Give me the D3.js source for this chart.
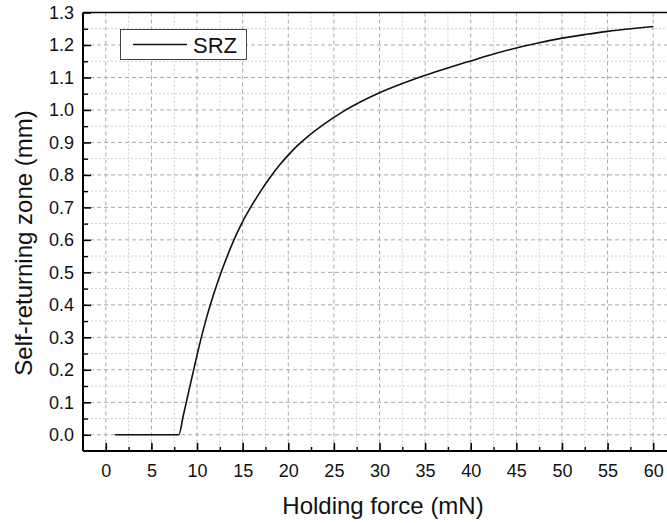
<!DOCTYPE html>
<html><head><meta charset="utf-8">
<script src="https://cdn.jsdelivr.net/npm/d3@7"></script>
<style>body{margin:0;background:#fff}svg{display:block}text{font-family:"Liberation Sans",Arial,sans-serif}</style>
</head><body>
<script>
const seriesName = "SRZ";
const xLabel = "Holding force (mN)";
const yLabel = "Self-returning zone (mm)";
const force = [1, 8, 8.5, 9, 9.5, 10, 10.5, 11, 11.5, 12, 12.5, 13, 14, 15, 16, 17, 18, 19, 20, 21, 22, 24, 26, 28, 30, 32, 34, 36, 38, 40, 42.5, 45, 47.5, 50, 52.5, 55, 57.5, 60];
const srz   = [0, 0, 0.06, 0.122, 0.184, 0.245, 0.303, 0.356, 0.404, 0.448, 0.489, 0.527, 0.597, 0.656, 0.706, 0.751, 0.792, 0.829, 0.861, 0.89, 0.915, 0.958, 0.995, 1.026, 1.053, 1.076, 1.097, 1.116, 1.134, 1.151, 1.172, 1.191, 1.207, 1.221, 1.232, 1.242, 1.25, 1.257];
const xTicks = [0, 5, 10, 15, 20, 25, 30, 35, 40, 45, 50, 55, 60];
const xMinor = [2.5, 7.5, 12.5, 17.5, 22.5, 27.5, 32.5, 37.5, 42.5, 47.5, 52.5, 57.5, 62.5];
const yTicks = [0, 0.1, 0.2, 0.3, 0.4, 0.5, 0.6, 0.7, 0.8, 0.9, 1.0, 1.1, 1.2, 1.3];
const yMinor = [0.05, 0.15, 0.25, 0.35, 0.45, 0.55, 0.65, 0.75, 0.85, 0.95, 1.05, 1.15, 1.25];

const W = 667, H = 523;
const L = 83, R = 676, T = 12.5, B = 451;
const svg = d3.select("body").append("svg").attr("width", W).attr("height", H);
const x = d3.scaleLinear().domain([-2.5, 62.5]).range([L, R]);
const y = d3.scaleLinear().domain([-0.05, 1.3]).range([B, T]);

// grid
const g = svg.append("g");
g.selectAll(".vminor").data(xMinor).join("line")
  .attr("x1", d => x(d)).attr("x2", d => x(d)).attr("y1", T).attr("y2", B)
  .attr("stroke", "#cfcfcf").attr("stroke-width", 1).attr("stroke-dasharray", "2,2");
g.selectAll(".hminor").data(yMinor).join("line")
  .attr("y1", d => y(d)).attr("y2", d => y(d)).attr("x1", L).attr("x2", R)
  .attr("stroke", "#cfcfcf").attr("stroke-width", 1).attr("stroke-dasharray", "2,2");
g.selectAll(".vmajor").data(xTicks).join("line")
  .attr("x1", d => x(d)).attr("x2", d => x(d)).attr("y1", T).attr("y2", B)
  .attr("stroke", "#a8a8a8").attr("stroke-width", 1).attr("stroke-dasharray", "4,3");
g.selectAll(".hmajor").data(yTicks).join("line")
  .attr("y1", d => y(d)).attr("y2", d => y(d)).attr("x1", L).attr("x2", R)
  .attr("stroke", "#a8a8a8").attr("stroke-width", 1).attr("stroke-dasharray", "4,3");

// top border
svg.append("line").attr("x1", L).attr("x2", R).attr("y1", T).attr("y2", T)
  .attr("stroke", "#000").attr("stroke-width", 1.6);

// axes with inward ticks
const xAxis = d3.axisBottom(x).tickValues(xTicks).tickSize(-8).tickPadding(13).tickFormat(d3.format("d"));
const xAx = svg.append("g").attr("transform", `translate(0,${B})`).call(xAxis);
xAx.selectAll(".tick line").attr("stroke-width", 1.6);
svg.append("g").attr("transform", `translate(0,${B})`)
  .call(d3.axisBottom(x).tickValues(xMinor).tickSize(-4).tickFormat(""))
  .call(s => s.select(".domain").remove())
  .selectAll(".tick line").attr("stroke-width", 1.4);
const yAxis = d3.axisLeft(y).tickValues(yTicks).tickSize(-8).tickPadding(9).tickFormat(d3.format(".1f"));
const yAx = svg.append("g").attr("transform", `translate(${L},0)`).call(yAxis);
yAx.selectAll(".tick line").attr("stroke-width", 1.6);
svg.append("g").attr("transform", `translate(${L},0)`)
  .call(d3.axisLeft(y).tickValues(yMinor).tickSize(-5).tickFormat(""))
  .call(s => s.select(".domain").remove())
  .selectAll(".tick line").attr("stroke-width", 1.4);
[xAx, yAx].forEach(a => {
  a.select(".domain").attr("stroke-width", 2);
  a.selectAll(".tick text").attr("font-size", 18).attr("fill", "#111")
    .attr("font-family", "'Liberation Sans', Arial, sans-serif");
});
xAx.select(".domain").attr("d", `M${L},0H${R}`);
yAx.select(".domain").attr("d", `M0,${T}V${B}`);

// curve
const pts = force.map((f, i) => [f, srz[i]]);
svg.append("path").datum(pts)
  .attr("fill", "none").attr("stroke", "#111").attr("stroke-width", 1.6)
  .attr("d", d3.line().x(d => x(d[0])).y(d => y(d[1])).curve(d3.curveMonotoneX));

// legend
svg.append("rect").attr("x", 120.5).attr("y", 29.5).attr("width", 126).attr("height", 30)
  .attr("fill", "#fff").attr("stroke", "#444").attr("stroke-width", 1);
svg.append("line").attr("x1", 133).attr("x2", 187).attr("y1", 44.5).attr("y2", 44.5)
  .attr("stroke", "#111").attr("stroke-width", 1.6);
svg.append("text").attr("x", 193).attr("y", 53).attr("font-size", 22).attr("fill", "#111").text(seriesName);

// axis titles
svg.append("text").attr("x", 383).attr("y", 514).attr("text-anchor", "middle")
  .attr("font-size", 24).attr("fill", "#111").text(xLabel);
svg.append("text").attr("transform", "translate(32,243) rotate(-90)").attr("text-anchor", "middle")
  .attr("font-size", 24).attr("fill", "#111").text(yLabel);
</script>
</body></html>
